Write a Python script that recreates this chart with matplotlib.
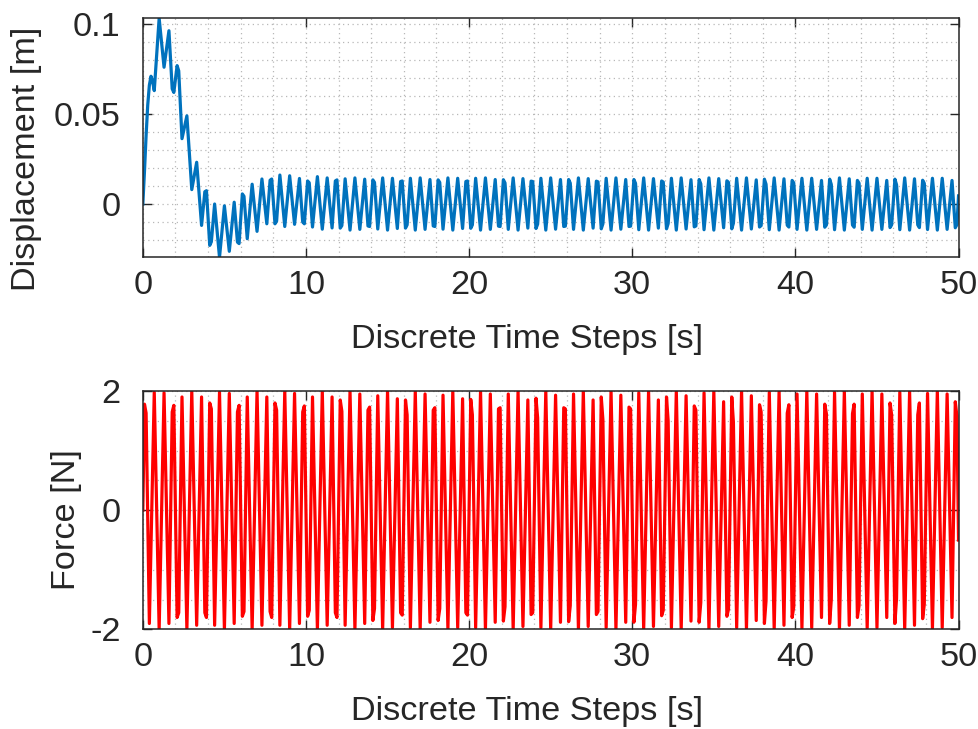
import matplotlib
matplotlib.use("Agg")
import matplotlib.pyplot as plt
from matplotlib.ticker import MultipleLocator, FixedLocator, FixedFormatter

plt.rcParams['font.family'] = ['Liberation Sans', 'DejaVu Sans']
plt.rcParams['axes.unicode_minus'] = False

# ---------------------------------------------------------------------------
# Displacement response: turning points of the sampled signal (dt = 0.1 s)
# ---------------------------------------------------------------------------
disp_t = [
    0.0, 0.1, 0.2, 0.3, 0.4, 0.5, 0.6, 0.7, 1.0, 1.3, 1.6, 1.8, 1.9, 2.1, 2.2, 2.4, 2.7, 3.0, 3.3, 3.6, 3.8, 3.9,
    4.1, 4.2, 4.4, 4.7, 5.0, 5.3, 5.6, 5.8, 5.9, 6.1, 6.2, 6.4, 6.7, 7.0, 7.3, 7.6, 7.8, 7.9,
    8.1, 8.2, 8.4, 8.7, 9.0, 9.3, 9.6, 9.8, 9.9, 10.1, 10.2, 10.4, 10.7, 11.0, 11.3, 11.6, 11.8, 11.9,
    12.1, 12.2, 12.4, 12.7, 13.0, 13.3, 13.6, 13.8, 13.9, 14.1, 14.2, 14.4, 14.7, 15.0, 15.3, 15.6, 15.8, 15.9,
    16.1, 16.2, 16.4, 16.7, 17.0, 17.3, 17.6, 17.8, 17.9, 18.1, 18.2, 18.4, 18.7, 19.0, 19.3, 19.6, 19.8, 19.9,
    20.1, 20.2, 20.4, 20.7, 21.0, 21.3, 21.6, 21.8, 21.9, 22.1, 22.2, 22.4, 22.7, 23.0, 23.3, 23.6, 23.8, 23.9,
    24.1, 24.2, 24.4, 24.7, 25.0, 25.3, 25.6, 25.8, 25.9, 26.1, 26.2, 26.4, 26.7, 27.0, 27.3, 27.6, 27.8, 27.9,
    28.1, 28.2, 28.4, 28.7, 29.0, 29.3, 29.6, 29.8, 29.9, 30.1, 30.2, 30.4, 30.7, 31.0, 31.3, 31.6, 31.8, 31.9,
    32.1, 32.2, 32.4, 32.7, 33.0, 33.3, 33.6, 33.8, 33.9, 34.1, 34.2, 34.4, 34.7, 35.0, 35.3, 35.6, 35.8, 35.9,
    36.1, 36.2, 36.4, 36.7, 37.0, 37.3, 37.6, 37.8, 37.9, 38.1, 38.2, 38.4, 38.7, 39.0, 39.3, 39.5, 39.6, 39.8, 39.9,
    40.1, 40.4, 40.7, 41.0, 41.3, 41.6, 41.8, 41.9, 42.1, 42.2, 42.4, 42.7, 43.0, 43.3, 43.5, 43.6, 43.8, 43.9,
    44.1, 44.4, 44.7, 45.0, 45.3, 45.6, 45.8, 45.9, 46.1, 46.2, 46.4, 46.7, 47.0, 47.3, 47.5, 47.6, 47.8, 47.9,
    48.1, 48.4, 48.7, 49.0, 49.3, 49.6, 49.8, 49.9, 50.0,
]
disp_v = [
    0.0, 0.018, 0.038, 0.055, 0.066, 0.071, 0.068, 0.063, 0.1032, 0.076, 0.0963, 0.064, 0.062, 0.0769, 0.074, 0.0363, 0.049, 0.008, 0.0232, -0.0119, 0.0068, 0.0074,
    -0.023, -0.021, 0.0, -0.0296, -0.001, -0.0263, 0.001, -0.0212, -0.022, 0.0056, 0.0043, -0.0193, 0.011, -0.0152, 0.0139, -0.011, 0.0132, 0.0139,
    -0.011, -0.0095, 0.0161, -0.0125, 0.0157, -0.0113, 0.0142, -0.010, -0.011, 0.0128, 0.0118, -0.0128, 0.0152, -0.0140, 0.0145, -0.0133, 0.0128, 0.0134,
    -0.0134, -0.0120, 0.0140, -0.0145, 0.0145, -0.0141, 0.0138, -0.0122, -0.0125, 0.0134, 0.0120, -0.0139, 0.0145, -0.0145, 0.0143, -0.0136, 0.0125, 0.0128,
    -0.0134, -0.0116, 0.0143, -0.0145, 0.0145, -0.0141, 0.0136, -0.0122, -0.0125, 0.0134, 0.0120, -0.0140, 0.0145, -0.0145, 0.0143, -0.0136, 0.0125, 0.0128,
    -0.0135, -0.0116, 0.0143, -0.0145, 0.0145, -0.0141, 0.0136, -0.0123, -0.0125, 0.0135, 0.0117, -0.0141, 0.0145, -0.0145, 0.0141, -0.0134, 0.0127, 0.0125,
    -0.0136, -0.0112, 0.0143, -0.0145, 0.0145, -0.0140, 0.0136, -0.0125, -0.0123, 0.0136, 0.0116, -0.0141, 0.0145, -0.0145, 0.0141, -0.0134, 0.0127, 0.0123,
    -0.0138, -0.0110, 0.0143, -0.0145, 0.0145, -0.0140, 0.0136, -0.0125, -0.0123, 0.0136, 0.0115, -0.0143, 0.0145, -0.0145, 0.0141, -0.0134, 0.0128, 0.0122,
    -0.0138, -0.0109, 0.0143, -0.0145, 0.0145, -0.0139, 0.0135, -0.0127, -0.0122, 0.0136, 0.0112, -0.0143, 0.0145, -0.0145, 0.0141, -0.0132, 0.0129, 0.0120,
    -0.0138, -0.0107, 0.0143, -0.0145, 0.0145, -0.0139, 0.0134, -0.0128, -0.0120, 0.0138, 0.0110, -0.0143, 0.0145, -0.0145, 0.0140, -0.0118, -0.0128, 0.0131, 0.0117,
    -0.0141, 0.0143, -0.0145, 0.0143, -0.0141, 0.0131, -0.0129, -0.0117, 0.0138, 0.0109, -0.0143, 0.0145, -0.0145, 0.0140, -0.0117, -0.0129, 0.0131, 0.0116,
    -0.0141, 0.0143, -0.0145, 0.0143, -0.0141, 0.0131, -0.0131, -0.0116, 0.0138, 0.0107, -0.0143, 0.0145, -0.0145, 0.0140, -0.0116, -0.0131, 0.0132, 0.0115,
    -0.0142, 0.0143, -0.0145, 0.0143, -0.0141, 0.0131, -0.0132, -0.0115, 0.0045,
]

# ---------------------------------------------------------------------------
# Applied force: turning points of the sampled excitation (dt = 0.1 s)
# ---------------------------------------------------------------------------
force_t = [
    0.0, 0.1, 0.2, 0.4, 0.7, 1.0, 1.3, 1.6, 1.8, 1.9, 2.1, 2.2, 2.4, 2.7, 3.0, 3.3, 3.6, 3.8, 3.9,
    4.1, 4.2, 4.4, 4.7, 5.0, 5.3, 5.6, 5.8, 5.9, 6.1, 6.2, 6.4, 6.7, 7.0, 7.3, 7.6, 7.8, 7.9,
    8.1, 8.2, 8.4, 8.7, 9.0, 9.3, 9.6, 9.8, 9.9, 10.1, 10.2, 10.4, 10.7, 11.0, 11.3, 11.6, 11.8, 11.9,
    12.1, 12.2, 12.4, 12.7, 13.0, 13.3, 13.6, 13.8, 13.9, 14.1, 14.2, 14.4, 14.7, 15.0, 15.3, 15.6, 15.8, 15.9,
    16.1, 16.2, 16.4, 16.7, 17.0, 17.3, 17.6, 17.8, 17.9, 18.1, 18.2, 18.4, 18.7, 19.0, 19.3, 19.6, 19.8, 19.9,
    20.1, 20.2, 20.4, 20.7, 21.0, 21.3, 21.6, 21.8, 21.9, 22.1, 22.2, 22.4, 22.7, 23.0, 23.3, 23.6, 23.8, 23.9,
    24.1, 24.2, 24.4, 24.7, 25.0, 25.3, 25.6, 25.8, 25.9, 26.1, 26.2, 26.4, 26.7, 27.0, 27.3, 27.6, 27.8, 27.9,
    28.1, 28.2, 28.4, 28.7, 29.0, 29.3, 29.6, 29.8, 29.9, 30.1, 30.2, 30.4, 30.7, 31.0, 31.3, 31.6, 31.8, 31.9,
    32.1, 32.2, 32.4, 32.7, 33.0, 33.3, 33.6, 33.8, 33.9, 34.1, 34.2, 34.4, 34.7, 35.0, 35.3, 35.6, 35.8, 35.9,
    36.1, 36.2, 36.4, 36.7, 37.0, 37.3, 37.6, 37.8, 37.9, 38.1, 38.2, 38.4, 38.7, 39.0, 39.3, 39.5, 39.6, 39.8, 39.9,
    40.1, 40.4, 40.7, 41.0, 41.3, 41.6, 41.8, 41.9, 42.1, 42.2, 42.4, 42.7, 43.0, 43.3, 43.5, 43.6, 43.8, 43.9,
    44.1, 44.4, 44.7, 45.0, 45.3, 45.6, 45.8, 45.9, 46.1, 46.2, 46.4, 46.7, 47.0, 47.3, 47.5, 47.6, 47.8, 47.9,
    48.1, 48.4, 48.7, 49.0, 49.3, 49.6, 49.8, 49.9, 50.0,
]
force_v = [
    0.0, 1.78, 1.63, -1.9, 1.98, -2.0, 1.97, -1.9, 1.65, 1.76, -1.8, -1.72, 1.9, -2.0, 2.0, -1.93, 1.9, -1.72, -1.8,
    1.8, 1.7, -1.93, 1.98, -2.0, 1.96, -1.9, 1.65, 1.76, -1.78, -1.7, 1.9, -2.0, 2.0, -1.93, 1.9, -1.7, -1.8,
    1.8, 1.68, -1.93, 2.0, -2.0, 1.96, -1.9, 1.65, 1.75, -1.78, -1.68, 1.9, -2.0, 2.0, -1.93, 1.9, -1.72, -1.8,
    1.85, 1.66, -1.93, 2.0, -2.0, 1.95, -1.9, 1.68, 1.73, -1.85, -1.65, 1.92, -2.0, 2.0, -1.97, 1.87, -1.72, -1.76,
    1.85, 1.6, -1.97, 2.0, -2.0, 1.95, -1.88, 1.68, 1.72, -1.85, -1.65, 1.93, -2.0, 2.0, -1.97, 1.87, -1.72, -1.76,
    1.86, 1.6, -1.97, 2.0, -2.0, 1.95, -1.88, 1.7, 1.72, -1.86, -1.62, 1.95, -2.0, 2.0, -1.95, 1.85, -1.75, -1.72,
    1.88, 1.55, -1.97, 2.0, -2.0, 1.93, -1.88, 1.72, 1.7, -1.87, -1.6, 1.95, -2.0, 2.0, -1.95, 1.85, -1.75, -1.7,
    1.9, 1.52, -1.97, 2.0, -2.0, 1.93, -1.88, 1.73, 1.7, -1.88, -1.58, 1.97, -2.0, 2.0, -1.95, 1.85, -1.77, -1.68,
    1.9, 1.5, -1.97, 2.0, -2.0, 1.92, -1.86, 1.75, 1.68, -1.88, -1.55, 1.97, -2.0, 2.0, -1.95, 1.82, -1.78, -1.66,
    1.9, 1.48, -1.97, 2.0, -2.0, 1.92, -1.85, 1.77, 1.65, -1.9, -1.52, 1.98, -2.0, 2.0, -1.93, 1.63, 1.77, -1.8, -1.62,
    1.95, -1.98, 2.0, -1.97, 1.95, -1.8, 1.78, 1.62, -1.9, -1.5, 1.98, -2.0, 2.0, -1.93, 1.62, 1.78, -1.8, -1.6,
    1.95, -1.98, 2.0, -1.97, 1.95, -1.8, 1.8, 1.6, -1.9, -1.48, 1.98, -2.0, 2.0, -1.93, 1.6, 1.8, -1.82, -1.58,
    1.96, -1.98, 2.0, -1.97, 1.95, -1.8, 1.82, 1.58, -0.5,
]

x_ticks = [0, 10, 20, 30, 40, 50]
disp_ticks = [0, 0.05, 0.1]
disp_tick_labels = ['0', '0.05', '0.1']
force_ticks = [-2, 0, 2]
force_tick_labels = ['-2', '0', '2']

x_label = 'Discrete Time Steps [s]'
disp_label = 'Displacement [m]'
force_label = 'Force [N]'

blue = '#0072BD'
red = '#FF0000'
ink = '#262626'
grid_col = '#b8b8b8'
fs = 24.7

fig = plt.figure(figsize=(9.79, 7.29), dpi=100)
ax1 = fig.add_axes([0.1459, 0.6471, 0.8332, 0.3278])
ax2 = fig.add_axes([0.1459, 0.1366, 0.8332, 0.3270])


def style(ax, yticks, ylabels, yminor):
    ax.set_xlim(0, 50)
    ax.xaxis.set_major_locator(FixedLocator(x_ticks))
    ax.xaxis.set_minor_locator(MultipleLocator(2))
    ax.yaxis.set_major_locator(FixedLocator(yticks))
    ax.yaxis.set_major_formatter(FixedFormatter(ylabels))
    ax.yaxis.set_minor_locator(MultipleLocator(yminor))
    ax.grid(which='both', color=grid_col, linewidth=0.9, dashes=(1.0, 2.8))
    ax.set_axisbelow(True)
    ax.tick_params(which='both', direction='in', top=True, right=True)
    ax.tick_params(which='minor', length=0)
    ax.tick_params(which='major', length=6.5, width=1.0, color=ink,
                   labelcolor=ink, labelsize=fs)
    ax.tick_params(axis='x', which='major', pad=9)
    ax.tick_params(axis='y', which='major', pad=16)
    for s in ax.spines.values():
        s.set_color(ink)
        s.set_linewidth(1.1)
    ax.set_xlabel(x_label, fontsize=fs, color=ink)
    ax.xaxis.set_label_coords(0.4716, -0.28)


ax1.plot(disp_t, disp_v, color=blue, linewidth=2.3)
ax1.set_ylim(min(disp_v), max(disp_v))
style(ax1, disp_ticks, disp_tick_labels, 0.01)
ax1.set_ylabel(disp_label, fontsize=fs, color=ink)
ax1.yaxis.set_label_coords(-0.1236, 0.411)

ax2.plot(force_t, force_v, color=red, linewidth=2.3)
ax2.set_ylim(-2, 2)
style(ax2, force_ticks, force_tick_labels, 0.5)
ax2.set_ylabel(force_label, fontsize=fs, color=ink)
ax2.yaxis.set_label_coords(-0.0745, 0.459)

fig.savefig('out.png', dpi=100)
